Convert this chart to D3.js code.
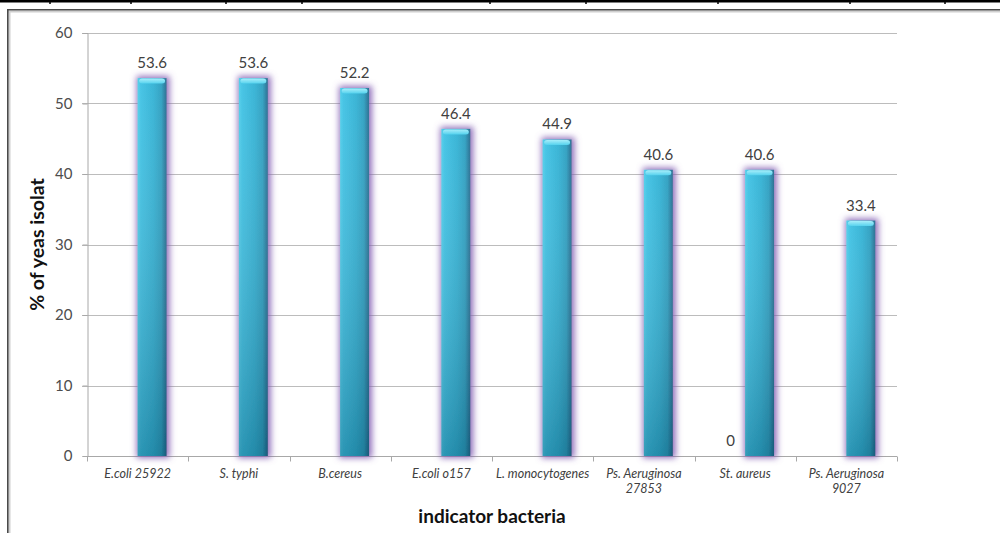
<!DOCTYPE html>
<html>
<head>
<meta charset="utf-8">
<script src="https://cdn.jsdelivr.net/npm/d3@7/dist/d3.min.js"></script>
<style>
  html, body { margin: 0; padding: 0; background: #fff; }
  svg { display: block; }
</style>
</head>
<body>
<svg id="chart" width="1000" height="533"></svg>
<script>
// Bacteria tested against the yeast isolates
const categories = [
  "E.coli 25922", "S. typhi", "B.cereus", "E.coli o157",
  "L. monocytogenes", "Ps. Aeruginosa\n27853", "St. aureus", "Ps. Aeruginosa\n9027"
];
// Two series share each category slot; the first only carries the zero for St. aureus
const seriesNames = ["zero", "percent"];
const zeroSeries = [null, null, null, null, null, null, 0, null];
const percentSeries = [53.6, 53.6, 52.2, 46.4, 44.9, 40.6, 40.6, 33.4];
const yTicks = [0, 10, 20, 30, 40, 50, 60];
const yTitle = "% of yeas isolat";
const xTitle = "indicator bacteria";
// column rules of the table row above the figure
const tableRules = [50, 131, 226, 302, 490, 586, 718, 850, 945];

const svg = d3.select("#chart");
const W = 1000, H = 533;
const plot = { left: 87, right: 897, top: 33, bottom: 456 };

const fontFam = "Lato, 'Open Sans', sans-serif";

// ---- page frame ----
svg.append("rect").attr("x", 0).attr("y", 0).attr("width", W).attr("height", 2.5).attr("fill", "#000");
svg.selectAll("line.rule").data(tableRules).join("line")
  .attr("class", "rule")
  .attr("x1", d => d).attr("x2", d => d).attr("y1", 0).attr("y2", 4)
  .attr("stroke", "#000").attr("stroke-width", 1.5);
svg.append("line").attr("x1", 7).attr("x2", W).attr("y1", 11.5).attr("y2", 11.5)
  .attr("stroke", "#cfcfcf").attr("stroke-width", 2);
svg.append("line").attr("x1", 7).attr("x2", W).attr("y1", 9.8).attr("y2", 9.8)
  .attr("stroke", "#4a4a4a").attr("stroke-width", 1.6);
svg.append("line").attr("x1", 9.5).attr("x2", 9.5).attr("y1", 11).attr("y2", H)
  .attr("stroke", "#cfcfcf").attr("stroke-width", 2);
svg.append("line").attr("x1", 7.8).attr("x2", 7.8).attr("y1", 9).attr("y2", H)
  .attr("stroke", "#4a4a4a").attr("stroke-width", 1.6);

// ---- scales ----
const x0 = d3.scaleBand().domain(categories).range([plot.left, plot.right]).padding(0);
const x1 = d3.scaleBand().domain(seriesNames).range([0, x0.bandwidth()])
  .paddingInner(0).paddingOuter(0.75);
const y = d3.scaleLinear().domain([0, 60]).range([plot.bottom, plot.top]);

// ---- defs: gradients and glow ----
const defs = svg.append("defs");
const gH = defs.append("linearGradient").attr("id", "barH").attr("x1", 0).attr("x2", 1).attr("y1", 0).attr("y2", 0);
[["0%", "#4ccdea"], ["12%", "#3bc0e3"], ["55%", "#2fb0d3"], ["82%", "#299dbf"], ["100%", "#20678c"]]
  .forEach(([o, c]) => gH.append("stop").attr("offset", o).attr("stop-color", c));
const gV = defs.append("linearGradient").attr("id", "barV").attr("x1", 0).attr("x2", 0).attr("y1", 0).attr("y2", 1);
gV.append("stop").attr("offset", "0%").attr("stop-color", "#ffffff").attr("stop-opacity", 0.06);
gV.append("stop").attr("offset", "100%").attr("stop-color", "#0a3a50").attr("stop-opacity", 0.32);
const gCap = defs.append("linearGradient").attr("id", "cap").attr("x1", 0).attr("x2", 0).attr("y1", 0).attr("y2", 1);
gCap.append("stop").attr("offset", "0%").attr("stop-color", "#a8eefa");
gCap.append("stop").attr("offset", "100%").attr("stop-color", "#55d2ee");

const glow = defs.append("filter").attr("id", "glow")
  .attr("x", "-50%").attr("y", "-20%").attr("width", "200%").attr("height", "140%");
glow.append("feMorphology").attr("in", "SourceAlpha").attr("operator", "dilate").attr("radius", 2).attr("result", "grow");
glow.append("feGaussianBlur").attr("in", "grow").attr("stdDeviation", 3).attr("result", "blur");
glow.append("feOffset").attr("in", "blur").attr("dx", 1).attr("dy", 0).attr("result", "off");
glow.append("feFlood").attr("flood-color", "#7e58b0").attr("flood-opacity", 0.85).attr("result", "col");
glow.append("feComposite").attr("in", "col").attr("in2", "off").attr("operator", "in").attr("result", "shadow");
const merge = glow.append("feMerge");
merge.append("feMergeNode").attr("in", "shadow");
merge.append("feMergeNode").attr("in", "SourceGraphic");

// ---- gridlines and axes ----
const grid = svg.append("g");
grid.selectAll("line").data(yTicks.filter(t => t > 0)).join("line")
  .attr("x1", plot.left - 5).attr("x2", plot.right)
  .attr("y1", d => Math.round(y(d)) + 0.5).attr("y2", d => Math.round(y(d)) + 0.5)
  .attr("stroke", "#bcbcbc").attr("stroke-width", 1);

const yAxis = svg.append("g").attr("transform", `translate(${plot.left + 0.5},0)`)
  .call(d3.axisLeft(y).tickValues(yTicks).tickSize(5).tickPadding(10).tickFormat(d3.format("d")));
yAxis.select(".domain").attr("stroke", "#a8a8a8");
yAxis.selectAll(".tick line").attr("stroke", "#a8a8a8");
yAxis.selectAll("text").attr("fill", "#4d4d4d").attr("font-size", 15).attr("font-family", fontFam);

// x axis line with boundary ticks
const xBase = svg.append("g").attr("transform", `translate(0,${plot.bottom + 0.5})`);
xBase.append("line").attr("x1", plot.left).attr("x2", plot.right).attr("stroke", "#a8a8a8");
const bounds = categories.map(c => x0(c)).concat([plot.right]);
xBase.selectAll("line.b").data(bounds).join("line").attr("class", "b")
  .attr("x1", d => Math.round(d) + 0.5).attr("x2", d => Math.round(d) + 0.5)
  .attr("y1", 0).attr("y2", 5).attr("stroke", "#a8a8a8");

// category labels
const xl = svg.append("g");
categories.forEach(c => {
  const lines = c.split("\n");
  const t = xl.append("text")
    .attr("x", x0(c) + x0.bandwidth() / 2).attr("y", 478)
    .attr("text-anchor", "middle").attr("font-style", "italic")
    .attr("font-size", 12.5).attr("font-family", fontFam).attr("fill", "#404040");
  lines.forEach((ln, i) => t.append("tspan")
    .attr("x", x0(c) + x0.bandwidth() / 2).attr("dy", i === 0 ? 0 : 15).text(ln));
});

// ---- bars ----
const barData = [];
categories.forEach((c, i) => {
  if (zeroSeries[i] !== null) barData.push({ cat: c, s: "zero", v: zeroSeries[i] });
  if (percentSeries[i] !== null) barData.push({ cat: c, s: "percent", v: percentSeries[i] });
});

const bars = svg.append("g").selectAll("g.bar").data(barData.filter(d => d.v > 0)).join("g")
  .attr("class", "bar").attr("filter", "url(#glow)");
bars.append("rect")
  .attr("x", d => x0(d.cat) + x1(d.s)).attr("width", x1.bandwidth())
  .attr("y", d => y(d.v)).attr("height", d => y(0) - y(d.v))
  .attr("fill", "url(#barH)");
bars.append("rect")
  .attr("x", d => x0(d.cat) + x1(d.s)).attr("width", x1.bandwidth())
  .attr("y", d => y(d.v)).attr("height", d => y(0) - y(d.v))
  .attr("fill", "url(#barV)");
// lighter rounded top face
bars.append("rect")
  .attr("x", d => x0(d.cat) + x1(d.s) + 1.5).attr("width", x1.bandwidth() - 3)
  .attr("y", d => y(d.v) + 0.5).attr("height", 5).attr("rx", 3)
  .attr("fill", "url(#cap)");

// value labels
svg.append("g").selectAll("text").data(barData).join("text")
  .attr("x", d => x0(d.cat) + x1(d.s) + x1.bandwidth() / 2)
  .attr("y", d => y(d.v) - 10)
  .attr("text-anchor", "middle").attr("font-size", 15).attr("font-family", fontFam)
  .attr("fill", "#404040")
  .text(d => d.v === 0 ? "0" : d3.format(".1f")(d.v));

// ---- titles ----
svg.append("text")
  .attr("x", (plot.left + plot.right) / 2).attr("y", 523)
  .attr("text-anchor", "middle").attr("font-weight", "bold").attr("font-size", 19)
  .attr("font-family", fontFam).attr("fill", "#111").text(xTitle);
svg.append("text")
  .attr("transform", `translate(44,${(plot.top + plot.bottom) / 2}) rotate(-90)`)
  .attr("text-anchor", "middle").attr("font-weight", "bold").attr("font-size", 19.5)
  .attr("font-family", fontFam).attr("fill", "#111").text(yTitle);
</script>
</body>
</html>
